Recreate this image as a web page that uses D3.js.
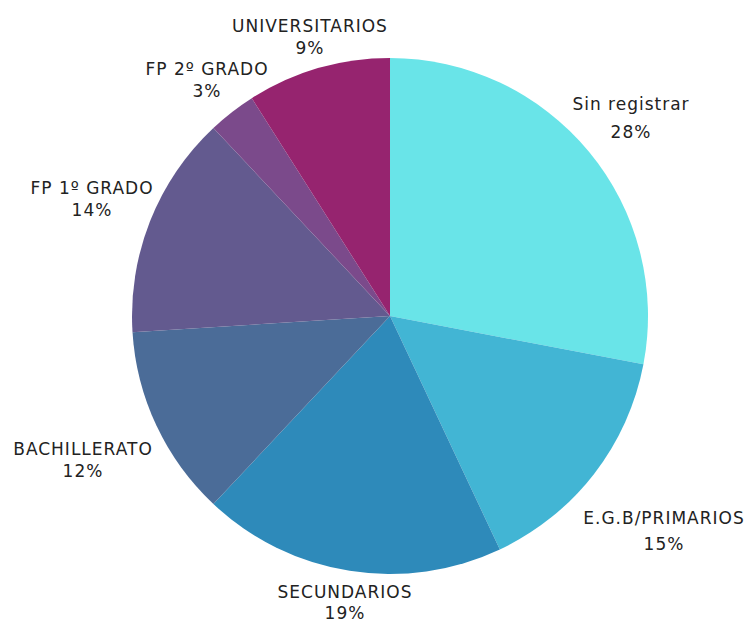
<!DOCTYPE html>
<html>
<head>
<meta charset="utf-8">
<script src="https://cdn.jsdelivr.net/npm/d3@7"></script>
<style>
  html, body { margin: 0; padding: 0; background: #fff; }
  svg text { font-family: "DejaVu Sans", "Noto Sans", sans-serif; font-size: 17px; letter-spacing: 1px; fill: #222; }
</style>
</head>
<body>
<svg id="chart" width="746" height="622"></svg>
<script>
const categories = ["Sin registrar", "E.G.B/PRIMARIOS", "SECUNDARIOS", "BACHILLERATO", "FP 1º GRADO", "FP 2º GRADO", "UNIVERSITARIOS"];
const values = [28, 15, 19, 12, 14, 3, 9];
const colors = ["#69E4E8", "#42B5D4", "#2E8ABA", "#4B6C98", "#635A8F", "#7B4A8B", "#96246F"];
const pctLabels = ["28%", "15%", "19%", "12%", "14%", "3%", "9%"];

const svg = d3.select("#chart");
const cx = 390, cy = 316, r = 258;

const pie = d3.pie().sort(null).value(d => d.value);
const arcs = pie(categories.map((c, i) => ({ cat: c, value: values[i], color: colors[i], pct: pctLabels[i] })));
const arc = d3.arc().innerRadius(0).outerRadius(r);

const g = svg.append("g").attr("transform", `translate(${cx},${cy})`);
g.selectAll("path").data(arcs).join("path")
  .attr("d", arc)
  .attr("fill", d => d.data.color);

const labelPos = {
  "Sin registrar":   { x: 631, y1: 110, y2: 138 },
  "E.G.B/PRIMARIOS": { x: 664, y1: 524, y2: 550 },
  "SECUNDARIOS":     { x: 345, y1: 598, y2: 619 },
  "BACHILLERATO":    { x: 83,  y1: 455, y2: 477 },
  "FP 1º GRADO":     { x: 92,  y1: 194, y2: 216 },
  "FP 2º GRADO":     { x: 207, y1: 75,  y2: 97 },
  "UNIVERSITARIOS":  { x: 310, y1: 32,  y2: 54 }
};

const lab = svg.append("g");
arcs.forEach(d => {
  const p = labelPos[d.data.cat];
  const t = lab.append("text").attr("text-anchor", "middle");
  t.append("tspan").attr("x", p.x).attr("y", p.y1).text(d.data.cat);
  t.append("tspan").attr("x", p.x).attr("y", p.y2).text(d.data.pct);
});
</script>
</body>
</html>
